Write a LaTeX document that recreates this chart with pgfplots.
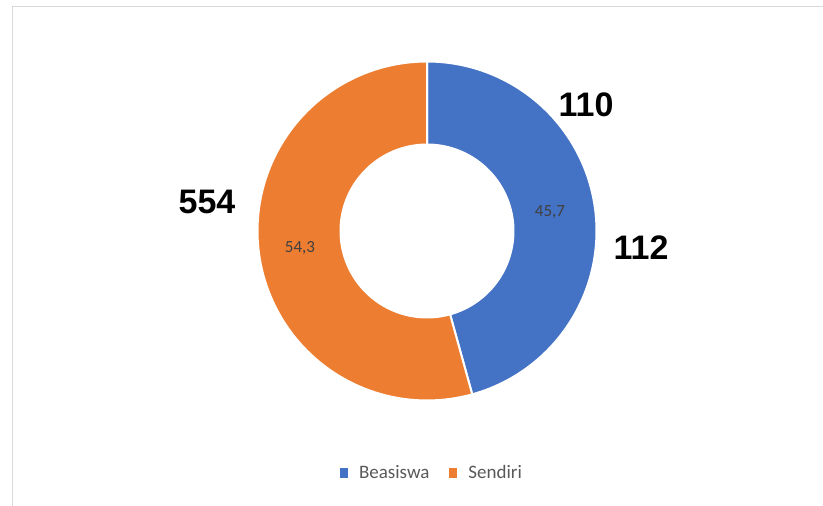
\documentclass[border=0pt]{standalone}
\usepackage{fontspec}
\setmainfont{Carlito}
\newfontfamily\arialf{Liberation Sans}
\usepackage{pgfplots}
\pgfplotsset{compat=1.18}
\definecolor{blueC}{HTML}{4472C4}
\definecolor{orangeC}{HTML}{ED7D31}
\definecolor{lblC}{HTML}{404040}
\definecolor{legC}{HTML}{595959}
\definecolor{frameC}{HTML}{D9D9D9}
% data (percent)
\def\va{45.7}% Beasiswa
\def\vb{54.3}% Sendiri
\def\R{169.5}
\def\r{86.5}
\def\cx{427}
\def\cy{275}
\begin{document}
\begin{tikzpicture}
\pgfmathsetmacro{\aa}{\va*3.6}
\pgfmathsetmacro{\ab}{\vb*3.6}
\pgfmathsetmacro{\sb}{90-\aa}
\begin{axis}[
  width=823pt, height=506pt, scale only axis,
  xmin=0, xmax=823, ymin=0, ymax=506,
  enlargelimits=false, hide axis, clip=true,
  legend columns=2,
  legend style={at={(axis cs:431,33)}, anchor=center, draw=none, fill=none,
    font=\fontsize{19}{22}\selectfont\color{legC},
    column sep=0pt, nodes={inner sep=0pt},
    /tikz/every odd column/.append style={column sep=11pt},
    /tikz/every even column/.append style={column sep=20pt}},
]
\addplot[draw=none, forget plot] coordinates {(0,0) (823,506)};
\addplot[frameC, line width=1.5pt, forget plot] coordinates {(12.5,-5) (12.5,499.5) (830,499.5)};
% Beasiswa slice
\addplot[fill=blueC, draw=white, line width=2pt, variable=\t,
  samples at={0,1,...,100,200,201,...,300},
  legend image code/.code={\fill[blueC] (0pt,-4pt) rectangle (6pt,4pt);}]
  ({\cx + ((\t<=100)?\R:\r)*cos((\t<=100)?(90-\aa*\t/100):(90-\aa*(300-\t)/100))},
   {\cy + ((\t<=100)?\R:\r)*sin((\t<=100)?(90-\aa*\t/100):(90-\aa*(300-\t)/100))}) -- cycle;
\addlegendentry{Beasiswa}
% Sendiri slice
\addplot[fill=orangeC, draw=white, line width=2pt, variable=\t,
  samples at={0,1,...,100,200,201,...,300},
  legend image code/.code={\fill[orangeC] (0pt,-4pt) rectangle (6pt,4pt);}]
  ({\cx + ((\t<=100)?\R:\r)*cos((\t<=100)?(\sb-\ab*\t/100):(\sb-\ab*(300-\t)/100))},
   {\cy + ((\t<=100)?\R:\r)*sin((\t<=100)?(\sb-\ab*\t/100):(\sb-\ab*(300-\t)/100))}) -- cycle;
\addlegendentry{Sendiri}
% inner labels
\node[text=lblC, font=\fontsize{17}{20}\selectfont] at (axis cs:550,294) {45,7};
\node[text=lblC, font=\fontsize{17}{20}\selectfont] at (axis cs:300,258) {54,3};
% outer labels
\node[font=\arialf\bfseries\fontsize{34}{40}\selectfont] at (axis cs:586,401) {110};
\node[font=\arialf\bfseries\fontsize{34}{40}\selectfont] at (axis cs:641,258) {112};
\node[font=\arialf\bfseries\fontsize{34}{40}\selectfont] at (axis cs:207,304) {554};
\end{axis}
\end{tikzpicture}
\end{document}
